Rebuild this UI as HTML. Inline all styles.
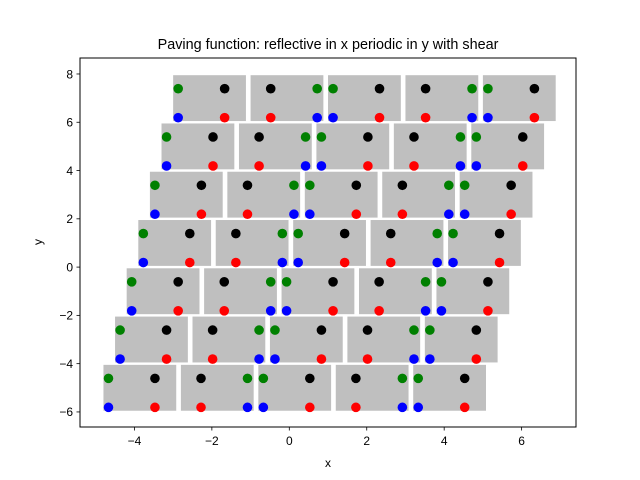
<!DOCTYPE html>
<html><head><meta charset="utf-8"><style>
body{margin:0;background:#fff;}
svg{display:block;font-family:"Liberation Sans","DejaVu Sans",sans-serif;}
</style></head><body>
<svg id="chart" width="640" height="480" viewBox="0 0 640 480" xmlns="http://www.w3.org/2000/svg">
<rect x="0" y="0" width="640" height="480" fill="#fff"/>
<text x="328" y="49" text-anchor="middle" font-size="14.4">Paving function: reflective in x periodic in y with shear</text>
<g id="plot"></g>
<rect x="80" y="58" width="496" height="369" fill="none" stroke="#000" stroke-width="1"/>
<g id="xticks"></g>
<g id="yticks"></g>
<text x="328" y="467" text-anchor="middle" font-size="12">x</text>
<text x="0" y="0" text-anchor="middle" font-size="12" transform="translate(42,242) rotate(-90)">y</text>
</svg>
<script>
const xTicks = [-4, -2, 0, 2, 4, 6];
const yTicks = [-6, -4, -2, 0, 2, 4, 6, 8];
const columns = [0, 1, 2, 3, 4];
const rows = [-6, -4, -2, 0, 2, 4, 6];
const shear = 0.15;
const originX = -3.95;
const pointColors = ['green', 'black', 'blue', 'red'];
const pointDx = [0.18, 1.38, 0.18, 1.38];
const pointDy = [1.39, 1.39, 0.19, 0.19];
const rectX0 = 0.05, rectX1 = 1.93, rectY0 = 0.05, rectY1 = 1.95;

const NS = 'http://www.w3.org/2000/svg';
function xs(v){ return 289.3 + (v) * 38.72; }
function ys(v){ return 267.1 - (v) * 24.14; }
function mk(tag, attrs, parent){
  const e = document.createElementNS(NS, tag);
  for (const k in attrs) e.setAttribute(k, attrs[k]);
  parent.appendChild(e); return e;
}
const plot = document.getElementById('plot');
const tiles = mk('g', {}, plot);


const pts = mk('g', {}, plot);



rows.forEach(function(ry){
  columns.forEach(function(ci){
    const c = originX + 2 * ci + shear * ry;
    const r = mk('rect', {x: xs(c + rectX0), y: ys(ry + rectY1), width: xs(c + rectX1) - xs(c + rectX0), height: ys(ry + rectY0) - ys(ry + rectY1), fill: '#bfbfbf'}, tiles);
    
    
    const mirror = ci % 2 === 1;
    pointColors.forEach(function(col, k){
      const dx = mirror ? (1.95 - pointDx[k]) : pointDx[k];
      const p = mk('circle', {cx: xs(c + dx), cy: ys(ry + pointDy[k]), r: 4.8, fill: col}, pts);
      
      
    });
  });
});

const xg = document.getElementById('xticks');
xTicks.forEach(function(t){
  const X = xs(t);
  const l = mk('line', {x1: X, x2: X, y1: 427, y2: 430.5, stroke: '#000', 'stroke-width': 0.8}, xg);
  
  
  const tx = mk('text', {x: X, y: 445, 'text-anchor': 'middle', 'font-size': 12}, xg);
  tx.textContent = t < 0 ? '\u2212' + Math.abs(t) : String(t);
  
  
});
const yg = document.getElementById('yticks');
yTicks.forEach(function(t){
  const Y = ys(t);
  const l = mk('line', {x1: 76.5, x2: 80, y1: Y, y2: Y, stroke: '#000', 'stroke-width': 0.8}, yg);
  
  
  const tx = mk('text', {x: 73, y: Y + 4.3, 'text-anchor': 'end', 'font-size': 12}, yg);
  tx.textContent = t < 0 ? '\u2212' + Math.abs(t) : String(t);
  
  
});
</script>
</body></html>
